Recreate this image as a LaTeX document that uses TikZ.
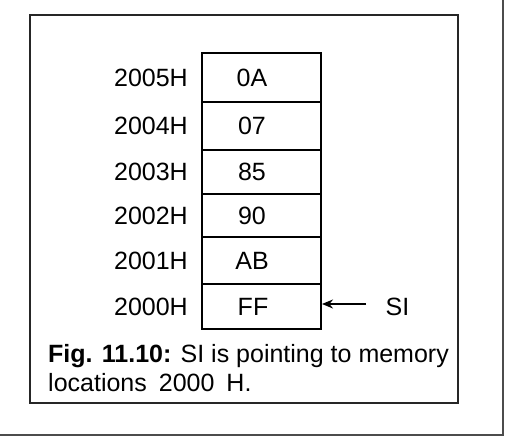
\documentclass[tikz,border=0pt]{standalone}
\usepackage{fontspec}
\setmainfont{Liberation Sans}
\usetikzlibrary{arrows.meta}
\begin{document}
\begin{tikzpicture}[x=1pt,y=1pt,
  txt/.style={font=\fontsize{25}{30}\selectfont, inner sep=0pt},
  cell/.style={draw=black, line width=1.5pt},
  sep/.style={draw=black, line width=1.1pt},
  frame/.style={draw=black!85, line width=1.4pt}]
\useasboundingbox (0,0) rectangle (506,436);
\fill[white] (0,0) rectangle (506,436);
% outer page frame (right and bottom edges)
\draw[draw=black!70, line width=2pt] (503,436) -- (503,1) -- (0,1);
% inner figure frame
\draw[frame] (30,421) rectangle (458,33);
% memory column
\coordinate (b0) at (202,383);
\coordinate (b1) at (202,334);
\coordinate (b2) at (202,286);
\coordinate (b3) at (202,242);
\coordinate (b4) at (202,199);
\coordinate (b5) at (202,152);
\coordinate (b6) at (202,107);
\coordinate (e1) at (321,334);
\coordinate (e2) at (321,286);
\coordinate (e3) at (321,242);
\coordinate (e4) at (321,199);
\coordinate (e5) at (321,152);
\draw[cell] (202,383) rectangle (321,107);
\draw[line width=1.5pt] (b1) -- (e1);
\draw[line width=1.4pt] (b2) -- (e2);
\draw[line width=1.3pt] (b3) -- (e3);
\draw[sep] (b4) -- (e4);
\draw[sep] (b5) -- (e5);
% addresses
\node[txt, anchor=east] (a5) at (188,358.5) {2005H};
\node[txt, anchor=east] (a4) at (188,310) {2004H};
\node[txt, anchor=east] (a3) at (188,264) {2003H};
\node[txt, anchor=east] (a2) at (188,220.5) {2002H};
\node[txt, anchor=east] (a1) at (188,175.5) {2001H};
\node[txt, anchor=east] (a0) at (188,129.5) {2000H};
% values
\node[txt] (v5) at (252,358.5) {0A};
\node[txt] (v4) at (252,310) {07};
\node[txt] (v3) at (252,264) {85};
\node[txt] (v2) at (252,220.5) {90};
\node[txt] (v1) at (252,175.5) {AB};
\node[txt] (v0) at (253,129.5) {FF};
% SI pointer
\node[txt] (si) at (397.5,129) {SI};
\coordinate (tip) at (322,132);
\coordinate (tail) at (366,132);
\draw[line width=1.8pt, -{Stealth[length=11pt,width=9pt]}] (tail) -- (tip);
% caption
\node[txt, anchor=base west] (cap1) at (48,73) {\textbf{Fig. 11.10:} SI is pointing to memory};
\node[txt, anchor=base west] (cap2) at (48,44) {locations\hspace{12pt}2000\hspace{12pt}H.};
\end{tikzpicture}
\end{document}
